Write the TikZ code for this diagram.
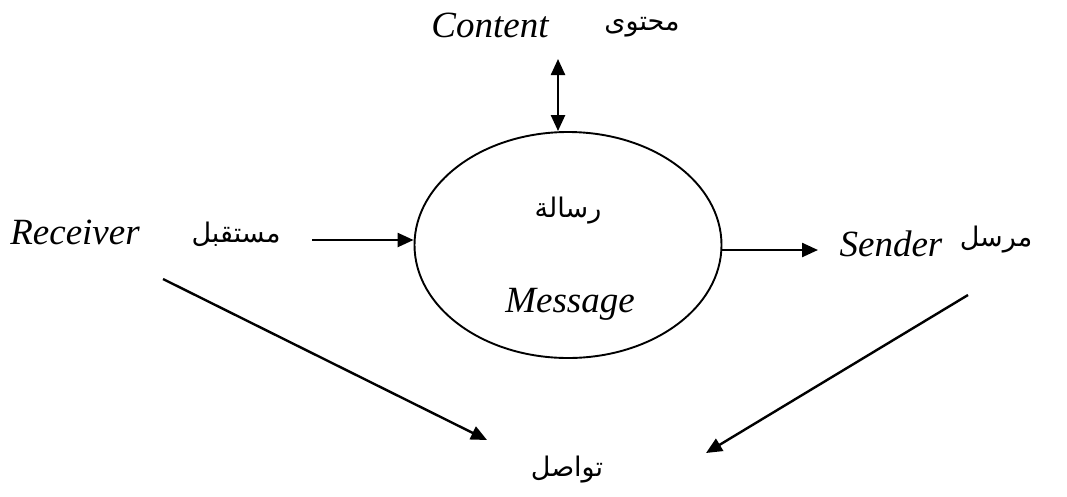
\documentclass[tikz,border=0pt]{standalone}
\usepackage{fontspec}
\setmainfont{Liberation Serif}
\newfontfamily\arabicfont[Script=Arabic]{DejaVu Sans}
\TeXXeTstate=1
\usetikzlibrary{arrows.meta,shapes.geometric}
\begin{document}
\begin{tikzpicture}[x=1pt,y=-1pt,
  lat/.style={font=\fontsize{37}{42}\selectfont\itshape, inner sep=0pt},
  ar/.style={font=\arabicfont\fontsize{27}{32}\selectfont, inner sep=0pt},
  tri/.tip={Triangle[length=16pt,width=14pt]},
  conn/.style={line width=2.4pt,-tri}]
\useasboundingbox (0,0) rectangle (1067,496);

% central message ellipse
\node[draw, ellipse, line width=1.9pt, minimum width=307pt, minimum height=226pt, inner sep=0pt] (msg) at (568,245) {};
\node[ar] (msgar) at (568,211) {\beginR رسالة\endR};
\node[lat] (msgen) at (570,304) {Message};

% content
\node[lat] (cnten) at (490,25) {Content};
\node[ar] (cntar) at (642,27) {\beginR محتوى\endR};

% receiver
\node[lat] (recen) at (75,232) {Receiver};
\node[ar] (recar) at (236,234) {\beginR مستقبل\endR};

% sender
\node[lat] (snden) at (891,244) {Sender};
\node[ar] (sndar) at (996,240) {\beginR مرسل\endR};

% communication
\node[ar] (com) at (567,470) {\beginR تواصل\endR};

% connector end points
\coordinate (ctop) at (558,59);
\coordinate (recstart) at (312,240);
\coordinate (sndtip) at (818,250);
\coordinate (ldiag) at (163,279);
\coordinate (ltip) at (487,440);
\coordinate (rdiag) at (968,295);
\coordinate (rtip) at (706,453);

\draw[line width=2.4pt,tri-tri] (ctop) -- (ctop |- msg.north);
\draw[conn] (recstart) -- (recstart -| msg.west);
\draw[conn] (sndtip -| msg.east) -- (sndtip);
\draw[conn] (ldiag) -- (ltip);
\draw[conn] (rdiag) -- (rtip);
\end{tikzpicture}
\end{document}
